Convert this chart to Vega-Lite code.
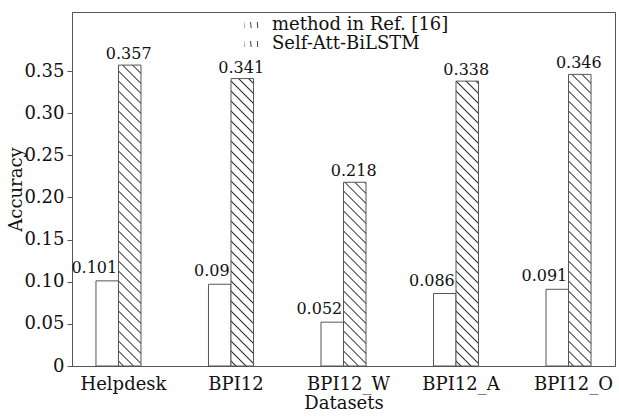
{
  "$schema": "https://vega.github.io/schema/vega-lite/v6.json",
  "width": 543,
  "height": 354,
  "autosize": "none",
  "padding": {"left": 72, "top": 12, "right": 4, "bottom": 51},
  "background": "white",
  "config": {
    "font": "DejaVu Serif",
    "view": {"stroke": "#555", "strokeWidth": 1},
    "axis": {"domainColor": "#555", "tickColor": "#555", "labelColor": "#111", "titleColor": "#111", "grid": false, "labelFont": "DejaVu Serif", "titleFont": "DejaVu Serif", "titleFontWeight": "normal"},
    "text": {"font": "DejaVu Serif", "color": "#111"}
  },
  "data": {
    "values": [
      {"dataset": "Helpdesk", "method": "method in Ref. [16]", "value": 0.101, "label": "0.101"},
      {"dataset": "Helpdesk", "method": "Self-Att-BiLSTM", "value": 0.357, "label": "0.357"},
      {"dataset": "BPI12", "method": "method in Ref. [16]", "value": 0.097, "label": "0.09"},
      {"dataset": "BPI12", "method": "Self-Att-BiLSTM", "value": 0.341, "label": "0.341"},
      {"dataset": "BPI12_W", "method": "method in Ref. [16]", "value": 0.052, "label": "0.052"},
      {"dataset": "BPI12_W", "method": "Self-Att-BiLSTM", "value": 0.218, "label": "0.218"},
      {"dataset": "BPI12_A", "method": "method in Ref. [16]", "value": 0.086, "label": "0.086"},
      {"dataset": "BPI12_A", "method": "Self-Att-BiLSTM", "value": 0.338, "label": "0.338"},
      {"dataset": "BPI12_O", "method": "method in Ref. [16]", "value": 0.091, "label": "0.091"},
      {"dataset": "BPI12_O", "method": "Self-Att-BiLSTM", "value": 0.346, "label": "0.346"}
    ]
  },
  "encoding": {
    "x": {
      "field": "dataset", "type": "nominal",
      "sort": ["Helpdesk", "BPI12", "BPI12_W", "BPI12_A", "BPI12_O"],
      "scale": {"paddingInner": 0.6, "paddingOuter": 0.213},
      "axis": {"title": "Datasets", "labelAngle": 0, "ticks": false, "tickSize": 0, "labelPadding": 9, "labelFontSize": 18, "titleFontSize": 18, "titlePadding": 1, "labelOffset": 5}
    },
    "xOffset": {
      "field": "method", "type": "nominal",
      "sort": ["method in Ref. [16]", "Self-Att-BiLSTM"],
      "scale": {"paddingInner": 0, "paddingOuter": 0}
    },
    "y": {
      "field": "value", "type": "quantitative",
      "scale": {"domain": [0, 0.42], "nice": false},
      "axis": {"title": "Accuracy", "values": [0, 0.05, 0.1, 0.15, 0.2, 0.25, 0.3, 0.35], "labelExpr": "datum.value === 0 ? '0' : format(datum.value, '.2f')", "tickSize": 5, "labelPadding": 3, "labelFontSize": 18, "titleFontSize": 18, "titlePadding": -2}
    }
  },
  "layer": [
    {
      "mark": {"type": "bar", "stroke": "#555", "strokeWidth": 1},
      "encoding": {
        "opacity": {
          "field": "method", "type": "nominal",
          "sort": ["method in Ref. [16]", "Self-Att-BiLSTM"],
          "scale": {"range": [1, 1]},
          "legend": {
            "title": null, "orient": "none", "legendX": 171, "legendY": 4,
            "symbolType": "M-1,-0.4L1,-0.4L1,0.4L-1,0.4Z", "symbolSize": 225,
            "symbolStrokeColor": "#555", "symbolStrokeWidth": 1,
            "labelFontSize": 18, "labelFont": "DejaVu Serif", "labelColor": "#111",
            "labelOffset": 11, "labelLimit": 400, "rowPadding": 1, "padding": 0,
            "encode": {"symbols": {"update": {
              "shape": {"value": "M-1,-0.4L1,-0.4L1,0.4L-1,0.4Z"},
              "size": {"value": 225},
              "angle": {"value": 0},
              "fill": [
                {"test": "datum.value === 'Self-Att-BiLSTM'", "value": {"gradient": "linear", "x1": 0, "y1": 1, "x2": 1.2069, "y2": 0.5172, "stops": [
                  {"offset": 0.1, "color": "#fff"}, {"offset": 0.1667, "color": "#333"}, {"offset": 0.2333, "color": "#fff"},
                  {"offset": 0.4333, "color": "#fff"}, {"offset": 0.5, "color": "#333"}, {"offset": 0.5667, "color": "#fff"},
                  {"offset": 0.7667, "color": "#fff"}, {"offset": 0.8333, "color": "#333"}, {"offset": 0.9, "color": "#fff"}]}},
                {"value": "white"}
              ],
              "stroke": {"value": "#555"},
              "strokeWidth": {"value": 1},
              "opacity": {"value": 1}
            }}}
          }
        },
        "fill": {
          "field": "method", "type": "nominal",
          "sort": ["method in Ref. [16]", "Self-Att-BiLSTM"],
          "scale": {"range": ["white", "white"]},
          "legend": null,
          "condition": [
            {"test": "datum.method === 'Self-Att-BiLSTM' && datum.dataset === 'Helpdesk'", "value": {"gradient": "linear", "x1": 0, "y1": 1, "x2": 0.08155, "y2": -0.09061, "stops": [{"offset":0.0109,"color":"#fff"},{"offset":0.0152,"color":"#333"},{"offset":0.0194,"color":"#fff"},{"offset":0.0412,"color":"#fff"},{"offset":0.0455,"color":"#333"},{"offset":0.0497,"color":"#fff"},{"offset":0.0715,"color":"#fff"},{"offset":0.0758,"color":"#333"},{"offset":0.0800,"color":"#fff"},{"offset":0.1018,"color":"#fff"},{"offset":0.1061,"color":"#333"},{"offset":0.1103,"color":"#fff"},{"offset":0.1321,"color":"#fff"},{"offset":0.1364,"color":"#333"},{"offset":0.1406,"color":"#fff"},{"offset":0.1624,"color":"#fff"},{"offset":0.1667,"color":"#333"},{"offset":0.1709,"color":"#fff"},{"offset":0.1927,"color":"#fff"},{"offset":0.1970,"color":"#333"},{"offset":0.2012,"color":"#fff"},{"offset":0.2230,"color":"#fff"},{"offset":0.2273,"color":"#333"},{"offset":0.2315,"color":"#fff"},{"offset":0.2533,"color":"#fff"},{"offset":0.2576,"color":"#333"},{"offset":0.2618,"color":"#fff"},{"offset":0.2836,"color":"#fff"},{"offset":0.2879,"color":"#333"},{"offset":0.2921,"color":"#fff"},{"offset":0.3139,"color":"#fff"},{"offset":0.3182,"color":"#333"},{"offset":0.3224,"color":"#fff"},{"offset":0.3442,"color":"#fff"},{"offset":0.3485,"color":"#333"},{"offset":0.3527,"color":"#fff"},{"offset":0.3745,"color":"#fff"},{"offset":0.3788,"color":"#333"},{"offset":0.3830,"color":"#fff"},{"offset":0.4048,"color":"#fff"},{"offset":0.4091,"color":"#333"},{"offset":0.4133,"color":"#fff"},{"offset":0.4352,"color":"#fff"},{"offset":0.4394,"color":"#333"},{"offset":0.4436,"color":"#fff"},{"offset":0.4655,"color":"#fff"},{"offset":0.4697,"color":"#333"},{"offset":0.4739,"color":"#fff"},{"offset":0.4958,"color":"#fff"},{"offset":0.5000,"color":"#333"},{"offset":0.5042,"color":"#fff"},{"offset":0.5261,"color":"#fff"},{"offset":0.5303,"color":"#333"},{"offset":0.5345,"color":"#fff"},{"offset":0.5564,"color":"#fff"},{"offset":0.5606,"color":"#333"},{"offset":0.5648,"color":"#fff"},{"offset":0.5867,"color":"#fff"},{"offset":0.5909,"color":"#333"},{"offset":0.5951,"color":"#fff"},{"offset":0.6170,"color":"#fff"},{"offset":0.6212,"color":"#333"},{"offset":0.6254,"color":"#fff"},{"offset":0.6473,"color":"#fff"},{"offset":0.6515,"color":"#333"},{"offset":0.6557,"color":"#fff"},{"offset":0.6776,"color":"#fff"},{"offset":0.6818,"color":"#333"},{"offset":0.6860,"color":"#fff"},{"offset":0.7079,"color":"#fff"},{"offset":0.7121,"color":"#333"},{"offset":0.7164,"color":"#fff"},{"offset":0.7382,"color":"#fff"},{"offset":0.7424,"color":"#333"},{"offset":0.7467,"color":"#fff"},{"offset":0.7685,"color":"#fff"},{"offset":0.7727,"color":"#333"},{"offset":0.7770,"color":"#fff"},{"offset":0.7988,"color":"#fff"},{"offset":0.8030,"color":"#333"},{"offset":0.8073,"color":"#fff"},{"offset":0.8291,"color":"#fff"},{"offset":0.8333,"color":"#333"},{"offset":0.8376,"color":"#fff"},{"offset":0.8594,"color":"#fff"},{"offset":0.8636,"color":"#333"},{"offset":0.8679,"color":"#fff"},{"offset":0.8897,"color":"#fff"},{"offset":0.8939,"color":"#333"},{"offset":0.8982,"color":"#fff"},{"offset":0.9200,"color":"#fff"},{"offset":0.9242,"color":"#333"},{"offset":0.9285,"color":"#fff"},{"offset":0.9503,"color":"#fff"},{"offset":0.9545,"color":"#333"},{"offset":0.9588,"color":"#fff"},{"offset":0.9806,"color":"#fff"},{"offset":0.9848,"color":"#333"},{"offset":0.9891,"color":"#fff"}]}},
            {"test": "datum.method === 'Self-Att-BiLSTM' && datum.dataset === 'BPI12'", "value": {"gradient": "linear", "x1": 0, "y1": 1, "x2": 0.08935, "y2": -0.14123, "stops": [{"offset":0.0109,"color":"#fff"},{"offset":0.0152,"color":"#333"},{"offset":0.0194,"color":"#fff"},{"offset":0.0412,"color":"#fff"},{"offset":0.0455,"color":"#333"},{"offset":0.0497,"color":"#fff"},{"offset":0.0715,"color":"#fff"},{"offset":0.0758,"color":"#333"},{"offset":0.0800,"color":"#fff"},{"offset":0.1018,"color":"#fff"},{"offset":0.1061,"color":"#333"},{"offset":0.1103,"color":"#fff"},{"offset":0.1321,"color":"#fff"},{"offset":0.1364,"color":"#333"},{"offset":0.1406,"color":"#fff"},{"offset":0.1624,"color":"#fff"},{"offset":0.1667,"color":"#333"},{"offset":0.1709,"color":"#fff"},{"offset":0.1927,"color":"#fff"},{"offset":0.1970,"color":"#333"},{"offset":0.2012,"color":"#fff"},{"offset":0.2230,"color":"#fff"},{"offset":0.2273,"color":"#333"},{"offset":0.2315,"color":"#fff"},{"offset":0.2533,"color":"#fff"},{"offset":0.2576,"color":"#333"},{"offset":0.2618,"color":"#fff"},{"offset":0.2836,"color":"#fff"},{"offset":0.2879,"color":"#333"},{"offset":0.2921,"color":"#fff"},{"offset":0.3139,"color":"#fff"},{"offset":0.3182,"color":"#333"},{"offset":0.3224,"color":"#fff"},{"offset":0.3442,"color":"#fff"},{"offset":0.3485,"color":"#333"},{"offset":0.3527,"color":"#fff"},{"offset":0.3745,"color":"#fff"},{"offset":0.3788,"color":"#333"},{"offset":0.3830,"color":"#fff"},{"offset":0.4048,"color":"#fff"},{"offset":0.4091,"color":"#333"},{"offset":0.4133,"color":"#fff"},{"offset":0.4352,"color":"#fff"},{"offset":0.4394,"color":"#333"},{"offset":0.4436,"color":"#fff"},{"offset":0.4655,"color":"#fff"},{"offset":0.4697,"color":"#333"},{"offset":0.4739,"color":"#fff"},{"offset":0.4958,"color":"#fff"},{"offset":0.5000,"color":"#333"},{"offset":0.5042,"color":"#fff"},{"offset":0.5261,"color":"#fff"},{"offset":0.5303,"color":"#333"},{"offset":0.5345,"color":"#fff"},{"offset":0.5564,"color":"#fff"},{"offset":0.5606,"color":"#333"},{"offset":0.5648,"color":"#fff"},{"offset":0.5867,"color":"#fff"},{"offset":0.5909,"color":"#333"},{"offset":0.5951,"color":"#fff"},{"offset":0.6170,"color":"#fff"},{"offset":0.6212,"color":"#333"},{"offset":0.6254,"color":"#fff"},{"offset":0.6473,"color":"#fff"},{"offset":0.6515,"color":"#333"},{"offset":0.6557,"color":"#fff"},{"offset":0.6776,"color":"#fff"},{"offset":0.6818,"color":"#333"},{"offset":0.6860,"color":"#fff"},{"offset":0.7079,"color":"#fff"},{"offset":0.7121,"color":"#333"},{"offset":0.7164,"color":"#fff"},{"offset":0.7382,"color":"#fff"},{"offset":0.7424,"color":"#333"},{"offset":0.7467,"color":"#fff"},{"offset":0.7685,"color":"#fff"},{"offset":0.7727,"color":"#333"},{"offset":0.7770,"color":"#fff"},{"offset":0.7988,"color":"#fff"},{"offset":0.8030,"color":"#333"},{"offset":0.8073,"color":"#fff"},{"offset":0.8291,"color":"#fff"},{"offset":0.8333,"color":"#333"},{"offset":0.8376,"color":"#fff"},{"offset":0.8594,"color":"#fff"},{"offset":0.8636,"color":"#333"},{"offset":0.8679,"color":"#fff"},{"offset":0.8897,"color":"#fff"},{"offset":0.8939,"color":"#333"},{"offset":0.8982,"color":"#fff"},{"offset":0.9200,"color":"#fff"},{"offset":0.9242,"color":"#333"},{"offset":0.9285,"color":"#fff"},{"offset":0.9503,"color":"#fff"},{"offset":0.9545,"color":"#333"},{"offset":0.9588,"color":"#fff"},{"offset":0.9806,"color":"#fff"},{"offset":0.9848,"color":"#333"},{"offset":0.9891,"color":"#fff"}]}},
            {"test": "datum.method === 'Self-Att-BiLSTM' && datum.dataset === 'BPI12_W'", "value": {"gradient": "linear", "x1": 0, "y1": 1, "x2": 0.21678, "y2": -0.76986, "stops": [{"offset":0.0109,"color":"#fff"},{"offset":0.0152,"color":"#333"},{"offset":0.0194,"color":"#fff"},{"offset":0.0412,"color":"#fff"},{"offset":0.0455,"color":"#333"},{"offset":0.0497,"color":"#fff"},{"offset":0.0715,"color":"#fff"},{"offset":0.0758,"color":"#333"},{"offset":0.0800,"color":"#fff"},{"offset":0.1018,"color":"#fff"},{"offset":0.1061,"color":"#333"},{"offset":0.1103,"color":"#fff"},{"offset":0.1321,"color":"#fff"},{"offset":0.1364,"color":"#333"},{"offset":0.1406,"color":"#fff"},{"offset":0.1624,"color":"#fff"},{"offset":0.1667,"color":"#333"},{"offset":0.1709,"color":"#fff"},{"offset":0.1927,"color":"#fff"},{"offset":0.1970,"color":"#333"},{"offset":0.2012,"color":"#fff"},{"offset":0.2230,"color":"#fff"},{"offset":0.2273,"color":"#333"},{"offset":0.2315,"color":"#fff"},{"offset":0.2533,"color":"#fff"},{"offset":0.2576,"color":"#333"},{"offset":0.2618,"color":"#fff"},{"offset":0.2836,"color":"#fff"},{"offset":0.2879,"color":"#333"},{"offset":0.2921,"color":"#fff"},{"offset":0.3139,"color":"#fff"},{"offset":0.3182,"color":"#333"},{"offset":0.3224,"color":"#fff"},{"offset":0.3442,"color":"#fff"},{"offset":0.3485,"color":"#333"},{"offset":0.3527,"color":"#fff"},{"offset":0.3745,"color":"#fff"},{"offset":0.3788,"color":"#333"},{"offset":0.3830,"color":"#fff"},{"offset":0.4048,"color":"#fff"},{"offset":0.4091,"color":"#333"},{"offset":0.4133,"color":"#fff"},{"offset":0.4352,"color":"#fff"},{"offset":0.4394,"color":"#333"},{"offset":0.4436,"color":"#fff"},{"offset":0.4655,"color":"#fff"},{"offset":0.4697,"color":"#333"},{"offset":0.4739,"color":"#fff"},{"offset":0.4958,"color":"#fff"},{"offset":0.5000,"color":"#333"},{"offset":0.5042,"color":"#fff"},{"offset":0.5261,"color":"#fff"},{"offset":0.5303,"color":"#333"},{"offset":0.5345,"color":"#fff"},{"offset":0.5564,"color":"#fff"},{"offset":0.5606,"color":"#333"},{"offset":0.5648,"color":"#fff"},{"offset":0.5867,"color":"#fff"},{"offset":0.5909,"color":"#333"},{"offset":0.5951,"color":"#fff"},{"offset":0.6170,"color":"#fff"},{"offset":0.6212,"color":"#333"},{"offset":0.6254,"color":"#fff"},{"offset":0.6473,"color":"#fff"},{"offset":0.6515,"color":"#333"},{"offset":0.6557,"color":"#fff"},{"offset":0.6776,"color":"#fff"},{"offset":0.6818,"color":"#333"},{"offset":0.6860,"color":"#fff"},{"offset":0.7079,"color":"#fff"},{"offset":0.7121,"color":"#333"},{"offset":0.7164,"color":"#fff"},{"offset":0.7382,"color":"#fff"},{"offset":0.7424,"color":"#333"},{"offset":0.7467,"color":"#fff"},{"offset":0.7685,"color":"#fff"},{"offset":0.7727,"color":"#333"},{"offset":0.7770,"color":"#fff"},{"offset":0.7988,"color":"#fff"},{"offset":0.8030,"color":"#333"},{"offset":0.8073,"color":"#fff"},{"offset":0.8291,"color":"#fff"},{"offset":0.8333,"color":"#333"},{"offset":0.8376,"color":"#fff"},{"offset":0.8594,"color":"#fff"},{"offset":0.8636,"color":"#333"},{"offset":0.8679,"color":"#fff"},{"offset":0.8897,"color":"#fff"},{"offset":0.8939,"color":"#333"},{"offset":0.8982,"color":"#fff"},{"offset":0.9200,"color":"#fff"},{"offset":0.9242,"color":"#333"},{"offset":0.9285,"color":"#fff"},{"offset":0.9503,"color":"#fff"},{"offset":0.9545,"color":"#333"},{"offset":0.9588,"color":"#fff"},{"offset":0.9806,"color":"#fff"},{"offset":0.9848,"color":"#333"},{"offset":0.9891,"color":"#fff"}]}},
            {"test": "datum.method === 'Self-Att-BiLSTM' && datum.dataset === 'BPI12_A'", "value": {"gradient": "linear", "x1": 0, "y1": 1, "x2": 0.09091, "y2": -0.15111, "stops": [{"offset":0.0109,"color":"#fff"},{"offset":0.0152,"color":"#333"},{"offset":0.0194,"color":"#fff"},{"offset":0.0412,"color":"#fff"},{"offset":0.0455,"color":"#333"},{"offset":0.0497,"color":"#fff"},{"offset":0.0715,"color":"#fff"},{"offset":0.0758,"color":"#333"},{"offset":0.0800,"color":"#fff"},{"offset":0.1018,"color":"#fff"},{"offset":0.1061,"color":"#333"},{"offset":0.1103,"color":"#fff"},{"offset":0.1321,"color":"#fff"},{"offset":0.1364,"color":"#333"},{"offset":0.1406,"color":"#fff"},{"offset":0.1624,"color":"#fff"},{"offset":0.1667,"color":"#333"},{"offset":0.1709,"color":"#fff"},{"offset":0.1927,"color":"#fff"},{"offset":0.1970,"color":"#333"},{"offset":0.2012,"color":"#fff"},{"offset":0.2230,"color":"#fff"},{"offset":0.2273,"color":"#333"},{"offset":0.2315,"color":"#fff"},{"offset":0.2533,"color":"#fff"},{"offset":0.2576,"color":"#333"},{"offset":0.2618,"color":"#fff"},{"offset":0.2836,"color":"#fff"},{"offset":0.2879,"color":"#333"},{"offset":0.2921,"color":"#fff"},{"offset":0.3139,"color":"#fff"},{"offset":0.3182,"color":"#333"},{"offset":0.3224,"color":"#fff"},{"offset":0.3442,"color":"#fff"},{"offset":0.3485,"color":"#333"},{"offset":0.3527,"color":"#fff"},{"offset":0.3745,"color":"#fff"},{"offset":0.3788,"color":"#333"},{"offset":0.3830,"color":"#fff"},{"offset":0.4048,"color":"#fff"},{"offset":0.4091,"color":"#333"},{"offset":0.4133,"color":"#fff"},{"offset":0.4352,"color":"#fff"},{"offset":0.4394,"color":"#333"},{"offset":0.4436,"color":"#fff"},{"offset":0.4655,"color":"#fff"},{"offset":0.4697,"color":"#333"},{"offset":0.4739,"color":"#fff"},{"offset":0.4958,"color":"#fff"},{"offset":0.5000,"color":"#333"},{"offset":0.5042,"color":"#fff"},{"offset":0.5261,"color":"#fff"},{"offset":0.5303,"color":"#333"},{"offset":0.5345,"color":"#fff"},{"offset":0.5564,"color":"#fff"},{"offset":0.5606,"color":"#333"},{"offset":0.5648,"color":"#fff"},{"offset":0.5867,"color":"#fff"},{"offset":0.5909,"color":"#333"},{"offset":0.5951,"color":"#fff"},{"offset":0.6170,"color":"#fff"},{"offset":0.6212,"color":"#333"},{"offset":0.6254,"color":"#fff"},{"offset":0.6473,"color":"#fff"},{"offset":0.6515,"color":"#333"},{"offset":0.6557,"color":"#fff"},{"offset":0.6776,"color":"#fff"},{"offset":0.6818,"color":"#333"},{"offset":0.6860,"color":"#fff"},{"offset":0.7079,"color":"#fff"},{"offset":0.7121,"color":"#333"},{"offset":0.7164,"color":"#fff"},{"offset":0.7382,"color":"#fff"},{"offset":0.7424,"color":"#333"},{"offset":0.7467,"color":"#fff"},{"offset":0.7685,"color":"#fff"},{"offset":0.7727,"color":"#333"},{"offset":0.7770,"color":"#fff"},{"offset":0.7988,"color":"#fff"},{"offset":0.8030,"color":"#333"},{"offset":0.8073,"color":"#fff"},{"offset":0.8291,"color":"#fff"},{"offset":0.8333,"color":"#333"},{"offset":0.8376,"color":"#fff"},{"offset":0.8594,"color":"#fff"},{"offset":0.8636,"color":"#333"},{"offset":0.8679,"color":"#fff"},{"offset":0.8897,"color":"#fff"},{"offset":0.8939,"color":"#333"},{"offset":0.8982,"color":"#fff"},{"offset":0.9200,"color":"#fff"},{"offset":0.9242,"color":"#333"},{"offset":0.9285,"color":"#fff"},{"offset":0.9503,"color":"#fff"},{"offset":0.9545,"color":"#333"},{"offset":0.9588,"color":"#fff"},{"offset":0.9806,"color":"#fff"},{"offset":0.9848,"color":"#333"},{"offset":0.9891,"color":"#fff"}]}},
            {"test": "datum.method === 'Self-Att-BiLSTM' && datum.dataset === 'BPI12_O'", "value": {"gradient": "linear", "x1": 0, "y1": 1, "x2": 0.08681, "y2": -0.12499, "stops": [{"offset":0.0109,"color":"#fff"},{"offset":0.0152,"color":"#333"},{"offset":0.0194,"color":"#fff"},{"offset":0.0412,"color":"#fff"},{"offset":0.0455,"color":"#333"},{"offset":0.0497,"color":"#fff"},{"offset":0.0715,"color":"#fff"},{"offset":0.0758,"color":"#333"},{"offset":0.0800,"color":"#fff"},{"offset":0.1018,"color":"#fff"},{"offset":0.1061,"color":"#333"},{"offset":0.1103,"color":"#fff"},{"offset":0.1321,"color":"#fff"},{"offset":0.1364,"color":"#333"},{"offset":0.1406,"color":"#fff"},{"offset":0.1624,"color":"#fff"},{"offset":0.1667,"color":"#333"},{"offset":0.1709,"color":"#fff"},{"offset":0.1927,"color":"#fff"},{"offset":0.1970,"color":"#333"},{"offset":0.2012,"color":"#fff"},{"offset":0.2230,"color":"#fff"},{"offset":0.2273,"color":"#333"},{"offset":0.2315,"color":"#fff"},{"offset":0.2533,"color":"#fff"},{"offset":0.2576,"color":"#333"},{"offset":0.2618,"color":"#fff"},{"offset":0.2836,"color":"#fff"},{"offset":0.2879,"color":"#333"},{"offset":0.2921,"color":"#fff"},{"offset":0.3139,"color":"#fff"},{"offset":0.3182,"color":"#333"},{"offset":0.3224,"color":"#fff"},{"offset":0.3442,"color":"#fff"},{"offset":0.3485,"color":"#333"},{"offset":0.3527,"color":"#fff"},{"offset":0.3745,"color":"#fff"},{"offset":0.3788,"color":"#333"},{"offset":0.3830,"color":"#fff"},{"offset":0.4048,"color":"#fff"},{"offset":0.4091,"color":"#333"},{"offset":0.4133,"color":"#fff"},{"offset":0.4352,"color":"#fff"},{"offset":0.4394,"color":"#333"},{"offset":0.4436,"color":"#fff"},{"offset":0.4655,"color":"#fff"},{"offset":0.4697,"color":"#333"},{"offset":0.4739,"color":"#fff"},{"offset":0.4958,"color":"#fff"},{"offset":0.5000,"color":"#333"},{"offset":0.5042,"color":"#fff"},{"offset":0.5261,"color":"#fff"},{"offset":0.5303,"color":"#333"},{"offset":0.5345,"color":"#fff"},{"offset":0.5564,"color":"#fff"},{"offset":0.5606,"color":"#333"},{"offset":0.5648,"color":"#fff"},{"offset":0.5867,"color":"#fff"},{"offset":0.5909,"color":"#333"},{"offset":0.5951,"color":"#fff"},{"offset":0.6170,"color":"#fff"},{"offset":0.6212,"color":"#333"},{"offset":0.6254,"color":"#fff"},{"offset":0.6473,"color":"#fff"},{"offset":0.6515,"color":"#333"},{"offset":0.6557,"color":"#fff"},{"offset":0.6776,"color":"#fff"},{"offset":0.6818,"color":"#333"},{"offset":0.6860,"color":"#fff"},{"offset":0.7079,"color":"#fff"},{"offset":0.7121,"color":"#333"},{"offset":0.7164,"color":"#fff"},{"offset":0.7382,"color":"#fff"},{"offset":0.7424,"color":"#333"},{"offset":0.7467,"color":"#fff"},{"offset":0.7685,"color":"#fff"},{"offset":0.7727,"color":"#333"},{"offset":0.7770,"color":"#fff"},{"offset":0.7988,"color":"#fff"},{"offset":0.8030,"color":"#333"},{"offset":0.8073,"color":"#fff"},{"offset":0.8291,"color":"#fff"},{"offset":0.8333,"color":"#333"},{"offset":0.8376,"color":"#fff"},{"offset":0.8594,"color":"#fff"},{"offset":0.8636,"color":"#333"},{"offset":0.8679,"color":"#fff"},{"offset":0.8897,"color":"#fff"},{"offset":0.8939,"color":"#333"},{"offset":0.8982,"color":"#fff"},{"offset":0.9200,"color":"#fff"},{"offset":0.9242,"color":"#333"},{"offset":0.9285,"color":"#fff"},{"offset":0.9503,"color":"#fff"},{"offset":0.9545,"color":"#333"},{"offset":0.9588,"color":"#fff"},{"offset":0.9806,"color":"#fff"},{"offset":0.9848,"color":"#333"},{"offset":0.9891,"color":"#fff"}]}}
          ]
        }
      }
    },
    {
      "transform": [{"filter": "datum.method === 'method in Ref. [16]'"}],
      "mark": {"type": "text", "align": "right", "baseline": "alphabetic", "dx": 10, "dy": -8, "fontSize": 16, "font": "DejaVu Serif", "color": "#111"},
      "encoding": {"text": {"field": "label", "type": "nominal"}}
    },
    {
      "transform": [{"filter": "datum.method === 'Self-Att-BiLSTM'"}],
      "mark": {"type": "text", "align": "center", "baseline": "alphabetic", "dx": -1, "dy": -6, "fontSize": 16, "font": "DejaVu Serif", "color": "#111"},
      "encoding": {"text": {"field": "label", "type": "nominal"}}
    }
  ]
}
